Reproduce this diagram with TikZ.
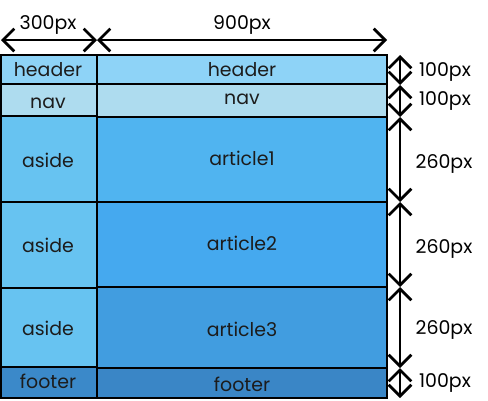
\documentclass[tikz,border=0pt]{standalone}
\usepackage{fontspec}
\setmainfont{Poppins}
\usetikzlibrary{arrows.meta}
\definecolor{cHead}{HTML}{8ED3F7}
\definecolor{cNav}{HTML}{AEDCEF}
\definecolor{cAside}{HTML}{67C3F1}
\definecolor{cArtA}{HTML}{50B4F0}
\definecolor{cArtB}{HTML}{45A9EF}
\definecolor{cArtC}{HTML}{419DE0}
\definecolor{cFootL}{HTML}{3B89C9}
\definecolor{cFootR}{HTML}{3A86C6}
\definecolor{cText}{HTML}{1C1C1C}
\begin{document}
\begin{tikzpicture}[x=0.75pt,y=-0.75pt,
  cell/.style={draw=black,line width=1.6pt},
  lbl/.style={text=cText,font=\fontsize{14.2pt}{16pt}\selectfont,inner sep=0pt},
  dim/.style={line width=2pt,{Straight Barb[length=8.5pt,width=17pt,line width=2pt]}-{Straight Barb[length=8.5pt,width=17pt,line width=2pt]}},
  dimlbl/.style={text=black,font=\fontsize{14.2pt}{16pt}\selectfont,inner sep=0pt}]
\useasboundingbox (0,0) rectangle (488,400);
% left column
\path[cell,fill=cHead] (1,55) rectangle (97,84);
\path[cell,fill=cNav] (1,84) rectangle (97,116);
\path[cell,fill=cAside] (1,116) rectangle (97,202);
\path[cell,fill=cAside] (1,202) rectangle (97,288);
\path[cell,fill=cAside] (1,288) rectangle (97,367);
\path[cell,fill=cFootL] (1,367) rectangle (97,398);
% right column
\path[cell,fill=cHead] (97,55) rectangle (387,84);
\path[cell,fill=cNav] (97,84) rectangle (387,117);
\path[cell,fill=cArtA] (97,117) rectangle (387,202);
\path[cell,fill=cArtB] (97,202) rectangle (387,287);
\path[cell,fill=cArtC] (97,287) rectangle (387,368);
\path[cell,fill=cFootR] (97,368) rectangle (387,398);
% labels
\node[lbl] (lh) at (48,70) {header};
\node[lbl] (ln) at (48,103) {nav};
\node[lbl] (la1) at (48,160) {aside};
\node[lbl] (la2) at (48,245) {aside};
\node[lbl] (la3) at (48,328) {aside};
\node[lbl] (lf) at (48,381) {footer};
\node[lbl] (rh) at (242,70) {header};
\node[lbl] (rn) at (242,99) {nav};
\node[lbl] (ra1) at (242,158) {article1};
\node[lbl] (ra2) at (242,243) {article2};
\node[lbl] (ra3) at (242,329) {article3};
\node[lbl] (rf) at (242,384) {footer};
% top dimension
\coordinate (t0) at (1,40);
\coordinate (t1) at (97,40);
\coordinate (t2) at (387,40);
\draw[dim] (t0) -- (t1);
\draw[dim] (t1) -- (t2);
\node[dimlbl] (w1) at (48,25) {300px};
\node[dimlbl] (w2) at (242,25) {900px};
% right dimension
\coordinate (r0) at (400,55);
\coordinate (r1) at (400,85);
\coordinate (r2) at (400,117);
\coordinate (r3) at (400,202);
\coordinate (r4) at (400,287);
\coordinate (r5) at (400,368);
\coordinate (r6) at (400,398);
\draw[dim] (r0) -- (r1);
\draw[dim] (r1) -- (r2);
\draw[dim] (r2) -- (r3);
\draw[dim] (r3) -- (r4);
\draw[dim] (r4) -- (r5);
\draw[dim] (r5) -- (r6);
\node[dimlbl] (h1) at (445,72) {100px};
\node[dimlbl] (h2) at (445,101) {100px};
\node[dimlbl] (h3) at (444,164) {260px};
\node[dimlbl] (h4) at (444,249) {260px};
\node[dimlbl] (h5) at (444,330) {260px};
\node[dimlbl] (h6) at (445,383) {100px};
\end{tikzpicture}
\end{document}
